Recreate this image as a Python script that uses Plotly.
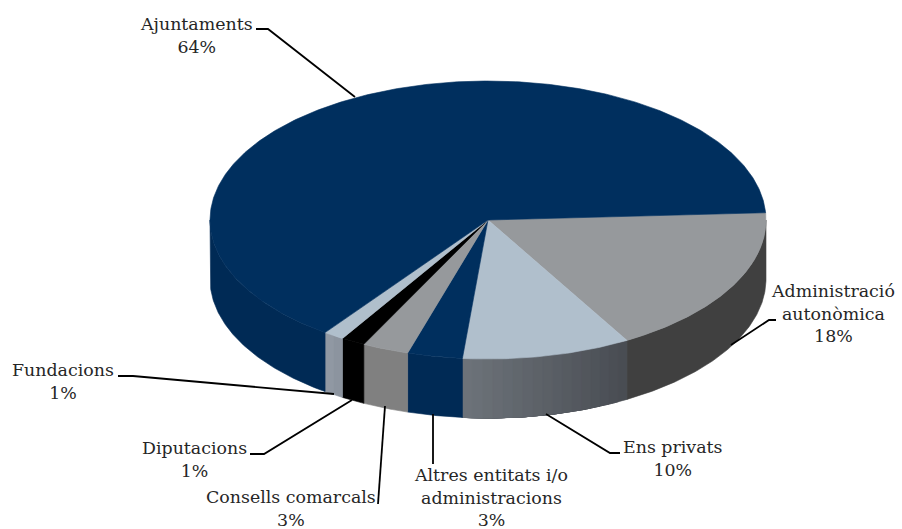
import numpy as np
import plotly.graph_objects as go

# Data (clockwise from just above due east)
categories = ["Administració autonòmica", "Ens privats", "Altres entitats i/o administracions",
              "Consells comarcals", "Diputacions", "Fundacions", "Ajuntaments"]
shares = [17.5, 9.8, 3.2, 2.7, 1.4, 1.2, 64.2]
percent_labels = ["18%", "10%", "3%", "3%", "1%", "1%", "64%"]
top_colors = ["#96999c", "#b0bfcc", "#002f5e", "#96999c", "#000000", "#b0bfcc", "#002f5e"]
side_from = ["#404040", "#6e747b", "#002a55", "#808080", "#000000", "#929aa5", "#002a55"]
side_to = ["#404040", "#484c52", "#002a55", "#808080", "#000000", "#8a929d", "#002a55"]

CX, CY, RX, RY, DEPTH = 488, 220, 278, 139, 59
START = 3.0
FONT = dict(family="DejaVu Serif", size=17.4, color="#262626")


def hex_rgb(c):
    return np.array([int(c[i:i + 2], 16) for i in (1, 3, 5)], float)


def mix(a, b, f):
    r = hex_rgb(a) * (1 - f) + hex_rgb(b) * f
    return "rgb(%d,%d,%d)" % tuple(r)


def pt(t, dz=0):
    return CX + RX * np.cos(np.radians(t)), CY - RY * np.sin(np.radians(t)) + dz


def poly(xs, ys, color):
    return go.Scatter(x=list(xs), y=list(ys), mode="lines", fill="toself", fillcolor=color,
                      line=dict(color=color, width=0.6), hoverinfo="skip", showlegend=False)


fig = go.Figure()
edges = START - np.cumsum([0] + shares) * 3.6

# Side walls (front half only); strips drawn right to left and overlapping, so no seams
for i in range(len(shares)):
    hi = min(edges[i], 0)
    lo = max(edges[i + 1], -180)
    if hi <= lo:
        continue
    n = 1 if side_from[i] == side_to[i] else max(2, int((hi - lo) / 2))
    steps = np.linspace(hi, lo, n + 1)
    for k in range(n):
        ts = np.linspace(steps[k], lo if k < n - 1 else steps[k + 1],
                         max(5, int((steps[k] - lo) * 2)))
        x0, y0 = pt(ts)
        x1, y1 = pt(ts[::-1], DEPTH)
        f = 1 - (k + 0.5) / n
        color = mix(side_from[i], side_to[i], f)
        fig.add_trace(poly(np.r_[x0, x1, x0[0]], np.r_[y0, y1, y0[0]], color))

# Top slices
for i in range(len(shares)):
    ts = np.linspace(edges[i], edges[i + 1], max(6, int(abs(shares[i]) * 6)))
    x, y = pt(ts)
    fig.add_trace(poly(np.r_[CX, x, CX], np.r_[CY, y, CY], top_colors[i]))

# Leader lines
leaders = [
    ([256, 268, 355], [29, 29, 97]),
    ([776, 769, 731], [320, 320, 345]),
    ([620, 610, 546], [453, 453, 414]),
    ([433, 433], [464, 414]),
    ([378, 385], [504, 406]),
    ([250, 264, 352], [454, 454, 400]),
    ([118, 133, 334], [376, 376, 394]),
]
for lx, ly in leaders:
    fig.add_trace(go.Scatter(x=lx, y=ly, mode="lines", line=dict(color="#000000", width=1.8),
                             hoverinfo="skip", showlegend=False))

# Labels
texts = [
    ("Administració<br>autonòmica<br>" + percent_labels[0], 833, 313),
    ("Ens privats<br>" + percent_labels[1], 673, 458),
    ("Altres entitats i/o<br>administracions<br>" + percent_labels[2], 491, 497),
    ("Consells comarcals<br>" + percent_labels[3], 291, 508),
    ("Diputacions<br>" + percent_labels[4], 194, 459),
    ("Fundacions<br>" + percent_labels[5], 63, 381),
    ("Ajuntaments<br>" + percent_labels[6], 196, 35),
]
for t, x, y in texts:
    fig.add_annotation(x=x, y=y, text=t, showarrow=False, font=FONT, align="center")

fig.update_layout(
    width=902, height=529, margin=dict(l=0, r=0, t=0, b=0),
    paper_bgcolor="white", plot_bgcolor="white", showlegend=False,
    xaxis=dict(range=[0, 902], visible=False, fixedrange=True),
    yaxis=dict(range=[529, 0], visible=False, fixedrange=True),
)
fig.write_html("out.html", post_script="document.body.style.margin='0';document.documentElement.style.overflow='hidden';",
               config={"displayModeBar": False})
